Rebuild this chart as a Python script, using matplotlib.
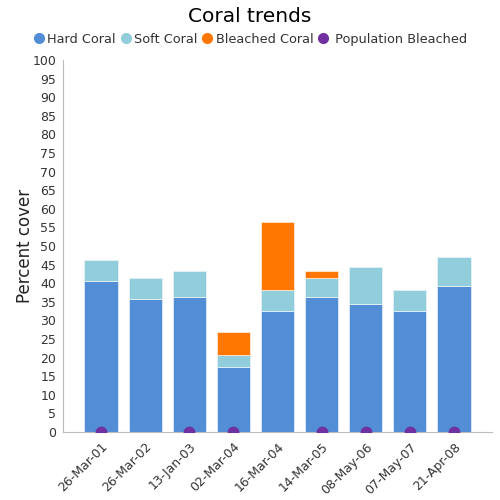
import numpy as np
import matplotlib.pyplot as plt

dates = ['26-Mar-01', '26-Mar-02', '13-Jan-03', '02-Mar-04', '16-Mar-04',
         '14-Mar-05', '08-May-06', '07-May-07', '21-Apr-08']
hard = [40.6, 35.7, 36.3, 17.5, 32.5, 36.3, 34.4, 32.5, 39.2]
soft = [5.6, 5.6, 7.0, 3.2, 5.7, 5.1, 10.0, 5.7, 7.8]
bleached = [0, 0, 0, 6.2, 18.3, 1.9, 0, 0, 0]
pop_bleached = [0, None, 0, 0, None, 0, 0, 0, 0]

c_hard = '#528dd6'
c_soft = '#92cddc'
c_bl = '#ff7700'
c_pop = '#7030a0'

fig = plt.figure(figsize=(5, 5), dpi=100)
ax = fig.add_axes([0.126, 0.136, 0.858, 0.744])

x = np.arange(len(dates))
w = 0.75
hard_a = np.array(hard)
soft_a = np.array(soft)
bl_a = np.array(bleached)
ax.bar(x, hard_a, w, color=c_hard, edgecolor='#dce9f7', linewidth=0.6)
ax.bar(x, soft_a, w, bottom=hard_a, color=c_soft, edgecolor='#e4f3f6', linewidth=0.6)
m = bl_a > 0
ax.bar(x[m], bl_a[m], w, bottom=(hard_a + soft_a)[m], color=c_bl, edgecolor='#ffe9d6', linewidth=0.6)

px = [i for i, v in enumerate(pop_bleached) if v is not None]
py = [v for v in pop_bleached if v is not None]
ax.plot(px, py, 'o', color=c_pop, markersize=7.5, linestyle='none', clip_on=True, zorder=5)

ax.set_xlim(-0.86, 8.86)
ax.set_ylim(0, 100)
ax.set_yticks(range(0, 101, 5))
ax.set_xticks(x)
ax.set_xticklabels(dates, rotation=45, ha='right', rotation_mode='anchor')
ax.tick_params(axis='both', labelsize=9, colors='#333333', length=0)
ax.tick_params(axis='x', pad=6)
ax.tick_params(axis='y', pad=5)
for s in ['top', 'right']:
    ax.spines[s].set_visible(False)
for s in ['left', 'bottom']:
    ax.spines[s].set_color('#bbbbbb')
ax.set_ylabel('Percent cover', fontsize=12, color='#222222', labelpad=-1)

fig.suptitle('Coral trends', fontsize=14.5, y=0.985)

labels = ['Hard Coral', 'Soft Coral', 'Bleached Coral', ' Population Bleached']
cols = [c_hard, c_soft, c_bl, c_pop]
handles = [plt.Line2D([], [], marker='o', color=c, linestyle='none', markersize=7) for c in cols]
leg = fig.legend(handles, labels, loc='center', bbox_to_anchor=(0.5, 0.921), ncol=4,
                 frameon=False, fontsize=9.3, handletextpad=0.15, columnspacing=0.25,
                 handlelength=1.0)
for t in leg.get_texts():
    t.set_color('#333333')

fig.savefig('out.png', dpi=100)
